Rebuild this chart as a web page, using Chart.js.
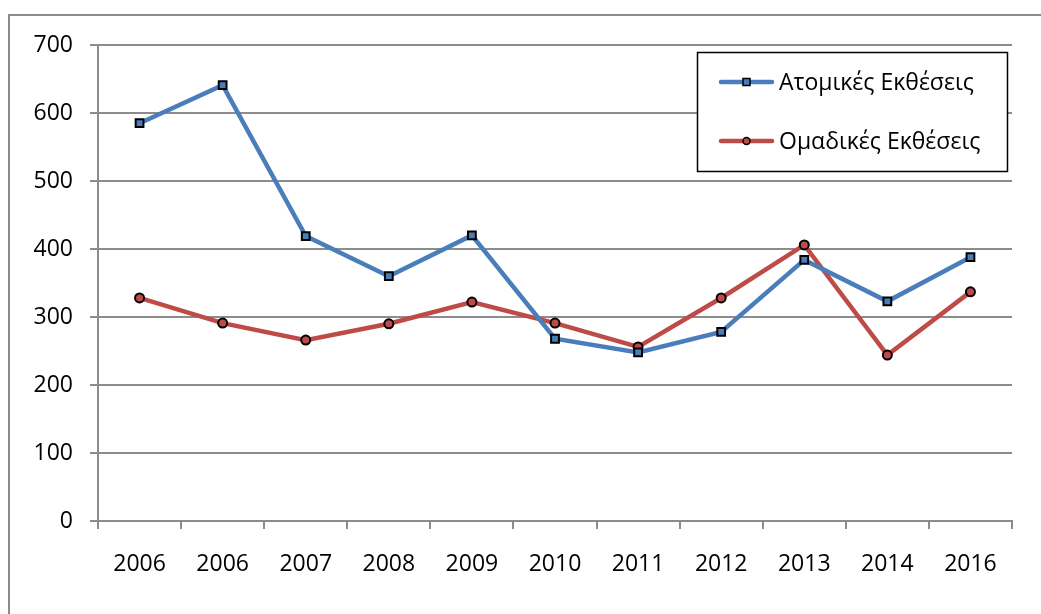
<!DOCTYPE html>
<html>
<head>
<meta charset="utf-8">
<script src="https://cdn.jsdelivr.net/npm/chart.js@4/dist/chart.umd.min.js"></script>
<style>
  html, body { margin: 0; padding: 0; background: #fff; }
  #wrap { width: 1041px; height: 614px; position: relative; }
</style>
</head>
<body>
<div id="wrap"><canvas id="chart" width="1041" height="614"></canvas></div>
<script>
const years = ["2006", "2006", "2007", "2008", "2009", "2010", "2011", "2012", "2013", "2014", "2016"];
const atomikes = [585, 641, 419, 360, 420, 268, 248, 278, 384, 323, 388];
const omadikes = [328, 291, 266, 290, 322, 291, 256, 328, 406, 244, 337];
const yTicks = [0, 100, 200, 300, 400, 500, 600, 700];

const FONT = "'Open Sans', 'DejaVu Sans', sans-serif";
const BLUE = "#4a7ebb";
const RED = "#be4b48";
const GRID = "#8c8c8c";

// outer frame + legend box drawn straight on the canvas
const framePlugin = {
  id: "frame",
  beforeDraw(chart) {
    const ctx = chart.ctx;
    ctx.save();
    ctx.strokeStyle = GRID;
    ctx.lineWidth = 2;
    ctx.strokeRect(9, 15, 1200, 800);
    ctx.restore();
  },
  afterDraw(chart) {
    const ctx = chart.ctx;
    ctx.save();
    ctx.fillStyle = "#fff";
    ctx.fillRect(697, 52, 310, 119);
    ctx.strokeStyle = "#000";
    ctx.lineWidth = 1.5;
    ctx.strokeRect(697.5, 52.5, 310, 119);
    const rows = [82, 141];
    chart.data.datasets.forEach((ds, i) => {
      const y = rows[i];
      ctx.strokeStyle = ds.borderColor;
      ctx.lineWidth = 4.5;
      ctx.lineCap = "round";
      ctx.beginPath();
      ctx.moveTo(721, y);
      ctx.lineTo(772, y);
      ctx.stroke();
      ctx.fillStyle = ds.pointBackgroundColor;
      ctx.strokeStyle = "#000";
      ctx.lineWidth = 1.5;
      ctx.beginPath();
      if (ds.pointStyle === "rect") {
        ctx.rect(743, y - 3.5, 7, 7);
      } else {
        ctx.arc(746.5, y, 3.5, 0, Math.PI * 2);
      }
      ctx.fill();
      ctx.stroke();
      ctx.fillStyle = "#000";
      ctx.font = "23px " + FONT;
      ctx.textBaseline = "middle";
      ctx.fillText(ds.label, 779, y + 1);
    });
    ctx.restore();
  }
};

new Chart(document.getElementById("chart"), {
  type: "line",
  data: {
    labels: years,
    datasets: [
      {
        label: "Ατομικές Εκθέσεις",
        data: atomikes,
        borderColor: BLUE,
        borderWidth: 4.5,
        pointStyle: "rect",
        pointRadius: 5.5,
        pointBackgroundColor: BLUE,
        pointBorderColor: "#000",
        pointBorderWidth: 2,
        tension: 0
      },
      {
        label: "Ομαδικές Εκθέσεις",
        data: omadikes,
        borderColor: RED,
        borderWidth: 4.5,
        pointStyle: "circle",
        pointRadius: 4.5,
        pointBackgroundColor: RED,
        pointBorderColor: "#000",
        pointBorderWidth: 2,
        tension: 0
      }
    ]
  },
  options: {
    responsive: false,
    animation: false,
    layout: { padding: { left: 0, right: 29, top: 45, bottom: 0 } },
    plugins: {
      legend: { display: false },
      tooltip: { enabled: false }
    },
    scales: {
      x: {
        offset: true,
        grid: {
          offset: true,
          drawOnChartArea: false,
          drawTicks: true,
          tickLength: 8,
          color: GRID,
          lineWidth: 2
        },
        border: { display: true, color: GRID, width: 2 },
        ticks: {
          color: "#000",
          font: { family: FONT, size: 23 },
          padding: 22,
          maxRotation: 0,
          autoSkip: false
        },
        afterFit(scale) { scale.height = 93; }
      },
      y: {
        min: 0,
        max: 700,
        afterBuildTicks(scale) { scale.ticks = yTicks.map(v => ({ value: v })); },
        grid: {
          color: GRID,
          lineWidth: 2,
          tickLength: 8
        },
        border: { display: true, color: GRID, width: 2 },
        ticks: {
          color: "#000",
          font: { family: FONT, size: 23 },
          padding: 17
        },
        afterFit(scale) { scale.width = 98; }
      }
    }
  },
  plugins: [framePlugin]
});
</script>
</body>
</html>
